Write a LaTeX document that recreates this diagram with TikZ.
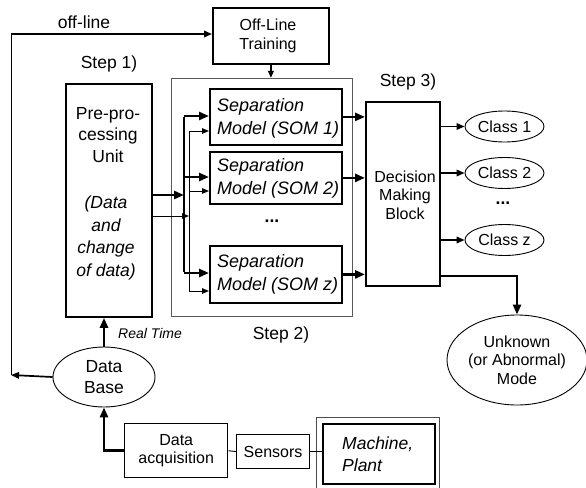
\documentclass[tikz,border=0pt]{standalone}
\usepackage{fontspec}
\setmainfont{Liberation Sans}
\usetikzlibrary{arrows.meta,shapes.geometric}
\tikzset{
  bigfont/.style={font=\fontsize{17.5}{21.5}\selectfont},
  midfont/.style={font=\fontsize{16}{18.5}\selectfont},
  rbox/.style={draw, line width=1.8pt, inner sep=0pt, anchor=north west},
  oval/.style={draw, ellipse, line width=0.9pt, inner sep=0pt, align=center},
  thk/.style={line width=2.6pt},
  med/.style={line width=1.7pt},
  thn/.style={line width=0.9pt},
  tipbig/.style={-{Triangle[length=10pt,width=8pt]}},
  tipmid/.style={-{Triangle[length=8pt,width=6.5pt]}},
  tipsml/.style={-{Triangle[length=7pt,width=5.5pt]}},
  lbl/.style={inner sep=0pt, align=center}
}
\begin{document}
\begin{tikzpicture}[x=1pt,y=-1pt]
\useasboundingbox (0,0) rectangle (586,487);

% frames
\node[draw, line width=0.9pt, draw=black!65, anchor=north west, inner sep=0pt,
      minimum width=181pt, minimum height=238pt] (s2) at (171,78) {};
\node[rbox, minimum width=116pt, minimum height=56pt] (offbox) at (212,7) {};
\node[lbl, midfont] (offt) at (268,36) {Off-Line\\Training};

\node[rbox, minimum width=86pt, minimum height=233pt] (pre) at (65,83) {};
\node[lbl, bigfont] (pretop) at (108,135) {Pre-pro-\\cessing\\Unit};
\node[lbl, bigfont, font=\fontsize{17.5}{22.5}\selectfont\itshape] (prebot) at (106,238) {(Data\\and\\change\\of data)};

\node[rbox, minimum width=132pt, minimum height=56pt] (som1) at (209,88) {};
\node[rbox, minimum width=132pt, minimum height=52pt] (som2) at (209,151) {};
\node[rbox, minimum width=132pt, minimum height=57pt] (somz) at (209,245) {};
\node[lbl, anchor=west, align=left, font=\fontsize{18}{23}\selectfont\itshape] (som1t) at (217,118) {Separation\\Model (SOM 1)};
\node[lbl, anchor=west, align=left, font=\fontsize{18}{23}\selectfont\itshape] (som2t) at (217,178) {Separation\\Model (SOM 2)};
\node[lbl, anchor=west, align=left, font=\fontsize{18}{23}\selectfont\itshape] (somzt) at (217,274) {Separation\\Model (SOM z)};
\node[lbl, bigfont, font=\fontsize{17.5}{21}\selectfont\bfseries] (sdots) at (272,221) {...};

\node[rbox, minimum width=74pt, minimum height=184pt] (dec) at (365,101) {};
\node[lbl, midfont] (dect) at (405,195) {Decision\\Making\\Block};

\node[oval, midfont, minimum width=79pt, minimum height=31pt] (c1) at (504.5,126.5) {Class 1};
\node[oval, midfont, minimum width=79pt, minimum height=31pt] (c2) at (504.5,173) {Class 2};
\node[oval, midfont, minimum width=79pt, minimum height=31pt] (cz) at (504.5,240) {Class z};
\node[lbl, bigfont, font=\fontsize{17.5}{21}\selectfont\bfseries] (cdots) at (503,203) {...};

\node[oval, midfont, minimum width=140pt, minimum height=90pt] (unk) at (517,360) {Unknown\\(or Abnormal)\\Mode};

\node[oval, bigfont, font=\fontsize{17.5}{21}\selectfont, minimum width=102pt, minimum height=60pt] (db) at (104,377) {Data\\Base};

\node[draw, line width=1.4pt, anchor=north west, inner sep=0pt, minimum width=103pt, minimum height=54pt, midfont, align=center] (acq) at (124,423) {Data\\acquisition};
\node[draw, line width=1.1pt, anchor=north west, inner sep=0pt, minimum width=73pt, minimum height=34pt, midfont] (sens) at (236,434) {Sensors};
\node[draw, line width=0.9pt, draw=black!70, anchor=north west, inner sep=0pt, minimum width=123pt, minimum height=74pt] (machout) at (316,417) {};
\node[draw, line width=2.4pt, anchor=north west, inner sep=0pt, minimum width=112pt, minimum height=60pt] (machin) at (322,423) {};
\node[lbl, anchor=west, align=left, font=\fontsize{17.5}{22}\selectfont\itshape] (macht) at (342,454) {Machine,\\Plant};

% labels
\node[lbl, bigfont] (offl) at (84,22) {off-line};
\node[lbl, bigfont] (st1) at (109,64) {Step 1)};
\node[lbl, bigfont] (st2) at (281,335) {Step 2)};
\node[lbl, bigfont] (st3) at (408,82) {Step 3)};
\node[lbl, font=\fontsize{14}{16}\selectfont\itshape] (rt) at (150,333) {Real Time};

% off-line loop
\coordinate (lb) at (11,375);
\coordinate (lt) at (11,34);
\draw[med, tipmid] (db.west) -- (lb);
\draw[thn] (lb) -- (lt);
\draw[med, tipmid] (lt) -- (lt -| offbox.west);
\draw[med, tipsml] (offbox.south) -- (offbox.south |- s2.north);

% buses
\coordinate (tb1) at (184,116);
\coordinate (tb2) at (184,177);
\coordinate (tb3) at (184,273);
\coordinate (nb1) at (189,131);
\coordinate (nb2) at (189,191);
\coordinate (nb3) at (189,291);
\coordinate (tin) at (184,195);
\coordinate (nin) at (189,216);
\draw[thk] ([yshift=-1.3pt]tb1) -- ([yshift=1.3pt]tb3);
\draw[thn] (nb1) -- (nb3);
\draw[thk, tipbig] (pre.east |- tin) -- (tin);
\draw[thn, tipsml] (pre.east |- nin) -- (nin);
\draw[thk, tipbig] (tb1) -- (tb1 -| som1.west);
\draw[thk, tipbig] (tb2) -- (tb2 -| som2.west);
\draw[thk, tipbig] (tb3) -- (tb3 -| somz.west);
\draw[thn, tipsml] (nb1) -- (nb1 -| som1.west);
\draw[thn, tipsml] (nb2) -- (nb2 -| som2.west);
\draw[thn, tipsml] (nb3) -- (nb3 -| somz.west);

% SOMs to decision
\draw[thk, tipbig] (som1.east) -- (som1.east -| dec.west);
\draw[thk, tipbig] (som2.east) -- (som2.east -| dec.west);
\draw[thk, tipbig] (somz.east) -- (somz.east -| dec.west);

% decision to classes
\draw[med, tipmid] (dec.east |- c1.west) -- (c1.west);
\draw[med, tipmid] (dec.east |- c2.west) -- (c2.west);
\draw[med, tipmid] (dec.east |- cz.west) -- (cz.west);
\coordinate (du) at (439,276);
\draw[thk, tipbig] (du) -| (unk.north);

% data base
\draw[thk, tipbig] (db.north) -- (db.north |- pre.south);
\draw[thk, tipbig] (acq.west) -| (db.south);
\draw[thn] (acq.east) -- (sens.west);
\draw[thn] (sens.east) -- (sens.east -| machin.west);
\end{tikzpicture}
\end{document}
